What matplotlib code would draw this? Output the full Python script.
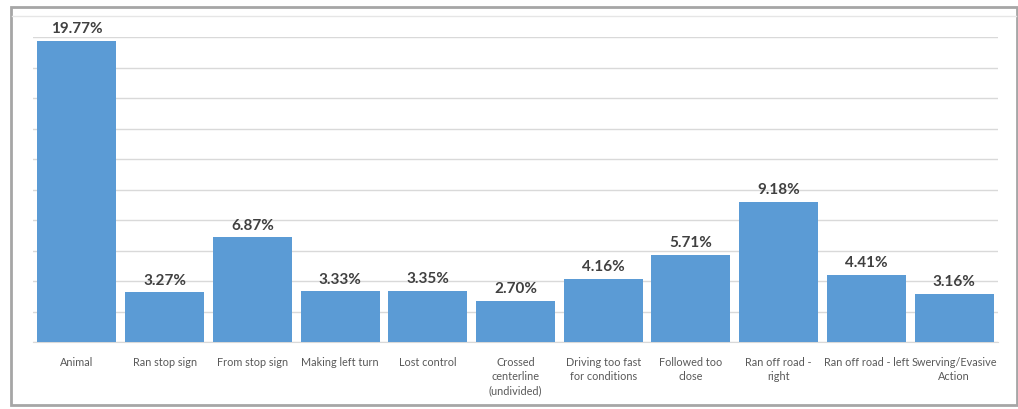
import matplotlib.pyplot as plt
from matplotlib.patches import Rectangle
from matplotlib.lines import Line2D
import numpy as np

categories = ['Animal', 'Ran stop sign', 'From stop sign', 'Making left turn',
              'Lost control', 'Crossed\ncenterline\n(undivided)',
              'Driving too fast\nfor conditions', 'Followed too\nclose',
              'Ran off road -\nright', 'Ran off road - left',
              'Swerving/Evasive\nAction']
values = [19.77, 3.27, 6.87, 3.33, 3.35, 2.70, 4.16, 5.71, 9.18, 4.41, 3.16]

plt.rcParams['font.family'] = ['Lato', 'DejaVu Sans']

fig = plt.figure(figsize=(10.18, 4.10), dpi=100)
ax = fig.add_axes([33 / 1018, 67 / 410, 965 / 1018, 305 / 410])

x = np.arange(len(categories))
bars = ax.bar(x, values, width=0.9, color='#5B9BD5', zorder=3)

for b, v in zip(bars, values):
    ax.annotate(f'{v:.2f}%', (b.get_x() + b.get_width() / 2, v),
                xytext=(0, 4), textcoords='offset points',
                ha='center', va='bottom', fontsize=11, fontweight='bold',
                color='#404040')

ax.set_xlim(-0.5, len(categories) - 0.5)
ax.set_ylim(0, 20)
ax.set_yticks(np.arange(0, 21, 2))
ax.set_yticklabels([])
ax.yaxis.grid(True, color='#D9D9D9', linewidth=1, zorder=0)
ax.set_xticks(x)
ax.set_xticklabels(categories, fontsize=7.8, color='#595959', linespacing=1.35)
ax.tick_params(axis='both', length=0)
ax.tick_params(axis='x', pad=10)
for s in ['top', 'right', 'left']:
    ax.spines[s].set_visible(False)
ax.spines['bottom'].set_color('#D9D9D9')

# outer frame
fig.patches.append(Rectangle((11 / 1018, 4 / 410), 1006 / 1018, 398 / 410,
                             transform=fig.transFigure, fill=False,
                             edgecolor='#A6A6A6', linewidth=2))
fig.lines.append(Line2D([12 / 1018, 1016 / 1018], [393 / 410, 393 / 410],
                        transform=fig.transFigure, color='#E6E6E6', linewidth=1))

plt.savefig('out.png', dpi=100)
